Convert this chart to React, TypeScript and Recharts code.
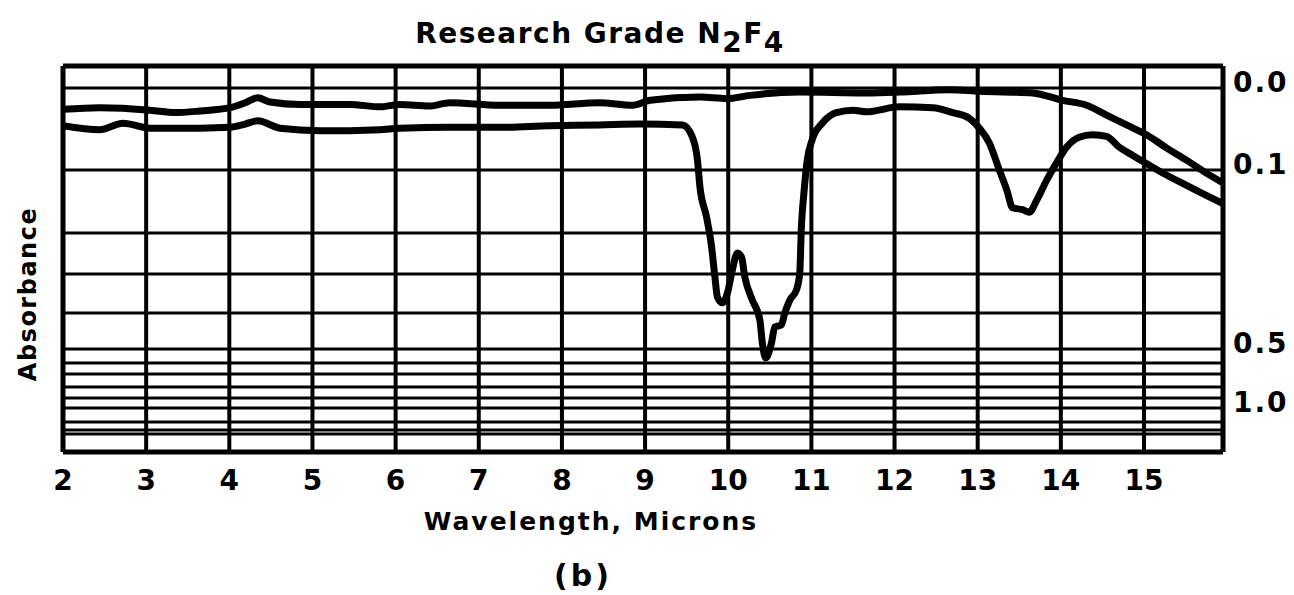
import React from 'react';
import { LineChart, Line, XAxis, YAxis, ReferenceLine } from 'recharts';

// ---- axis definitions ----
const wavelengthTicks = [2, 3, 4, 5, 6, 7, 8, 9, 10, 11, 12, 13, 14, 15];
const wavelengthDomain = [2, 15.95];
const absorbanceTickValues = [0, 0.1, 0.5, 1.0];
const absorbanceTickLabels = ['0.0', '0.1', '0.5', '1.0'];
// absorbance grid lines of the chart paper and their depth on the paper (% of plot height, 0 = top)
const gridAbsorbance = [0, 0.1, 0.2, 0.3, 0.4, 0.5, 0.6, 0.7, 0.8, 0.9, 1.0, 1.5, 2.0, 3.0];
const gridDepth = [5.7, 26.94, 43.26, 53.89, 63.99, 73.32, 76.94, 79.79, 83.16, 86.01, 88.6, 92.23, 94.3, 95.34];

// ---- series (wavelength in microns, absorbance) ----
const upperWavelength = [2.0, 2.44, 3.05, 3.35, 3.65, 4.01, 4.19, 4.34, 4.49, 4.85, 5.45, 5.81, 6.05, 6.41, 6.65, 7.25, 7.85, 8.45, 8.85, 9.06, 9.66, 9.98, 10.26, 10.86, 11.66, 12.06, 12.66, 13.02, 13.66, 14.02, 14.31, 14.55, 14.79, 15.03, 15.27, 15.51, 15.75, 15.93];
const upperAbsorbance = [0.026, 0.024, 0.027, 0.03, 0.028, 0.024, 0.018, 0.012, 0.017, 0.02, 0.02, 0.023, 0.02, 0.022, 0.018, 0.021, 0.021, 0.018, 0.021, 0.015, 0.011, 0.013, 0.009, 0.005, 0.006, 0.005, 0.002, 0.004, 0.006, 0.015, 0.021, 0.033, 0.045, 0.057, 0.073, 0.088, 0.105, 0.119];

const lowerWavelength = [2.0, 2.44, 2.72, 3.05, 3.65, 4.01, 4.19, 4.34, 4.61, 5.09, 5.45, 5.81, 6.05, 6.65, 7.25, 7.85, 8.45, 8.94, 9.45, 9.57, 9.63, 9.66, 9.74, 9.8, 9.84, 9.87, 9.93, 9.99, 10.05, 10.11, 10.16, 10.2, 10.29, 10.38, 10.41, 10.45, 10.52, 10.56, 10.64, 10.68, 10.74, 10.82, 10.86, 10.88, 10.91, 10.95, 11.01, 11.13, 11.3, 11.5, 11.66, 12.06, 12.46, 12.7, 12.9, 13.02, 13.14, 13.26, 13.35, 13.42, 13.54, 13.62, 13.71, 13.83, 13.95, 14.07, 14.22, 14.38, 14.55, 14.7, 14.86, 15.06, 15.27, 15.46, 15.67, 15.93];
const lowerAbsorbance = [0.046, 0.051, 0.043, 0.049, 0.049, 0.048, 0.044, 0.04, 0.049, 0.052, 0.052, 0.051, 0.049, 0.048, 0.048, 0.046, 0.045, 0.044, 0.045, 0.06, 0.088, 0.127, 0.175, 0.234, 0.308, 0.359, 0.374, 0.349, 0.29, 0.249, 0.259, 0.308, 0.367, 0.419, 0.483, 0.564, 0.483, 0.439, 0.433, 0.4, 0.367, 0.341, 0.298, 0.19, 0.137, 0.088, 0.063, 0.043, 0.03, 0.027, 0.029, 0.023, 0.024, 0.03, 0.037, 0.049, 0.067, 0.1, 0.132, 0.16, 0.163, 0.167, 0.148, 0.116, 0.091, 0.072, 0.06, 0.057, 0.059, 0.072, 0.082, 0.094, 0.108, 0.121, 0.135, 0.152];

// absorbance -> paper depth (piecewise along the chart paper's grid)
function toDepth(a: number): number {
  const n = gridAbsorbance.length;
  if (a <= gridAbsorbance[0]) {
    const s = (gridDepth[1] - gridDepth[0]) / (gridAbsorbance[1] - gridAbsorbance[0]);
    return gridDepth[0] + (a - gridAbsorbance[0]) * s;
  }
  for (let i = 0; i < n - 1; i++) {
    if (a <= gridAbsorbance[i + 1]) {
      const t = (a - gridAbsorbance[i]) / (gridAbsorbance[i + 1] - gridAbsorbance[i]);
      return gridDepth[i] + t * (gridDepth[i + 1] - gridDepth[i]);
    }
  }
  return gridDepth[n - 1];
}

const upperData = upperWavelength.map((w, i) => ({ w, d: toDepth(upperAbsorbance[i]) }));
const lowerData = lowerWavelength.map((w, i) => ({ w, d: toDepth(lowerAbsorbance[i]) }));
const yTickDepths = absorbanceTickValues.map(toDepth);
const gridLineDepths = gridAbsorbance.map(toDepth);

const FONT = '"DejaVu Sans", "Liberation Sans", sans-serif';

const XTick = (props: any) => {
  const { x, y, payload } = props;
  return (
    <text x={x} y={y} dy={38} textAnchor="middle" fontFamily={FONT} fontWeight="bold" fontSize={28} fill="#000">
      {payload.value}
    </text>
  );
};

const YTick = (props: any) => {
  const { x, y, payload } = props;
  let idx = 0;
  let best = Infinity;
  yTickDepths.forEach((d, i) => {
    const diff = Math.abs(d - payload.value);
    if (diff < best) { best = diff; idx = i; }
  });
  return (
    <text x={x} y={y} dy={4} textAnchor="start" fontFamily={FONT} fontWeight="bold" fontSize={28} letterSpacing={2} fill="#000">
      {absorbanceTickLabels[idx]}
    </text>
  );
};

export default function App() {
  return (
    <div style={{ position: 'absolute', left: 0, top: 0, width: 1294, height: 595, background: '#fff' }}>
      <LineChart width={1294} height={595} margin={{ top: 66, right: 0, bottom: 103, left: 63 }}>
        <XAxis
          dataKey="w"
          type="number"
          domain={wavelengthDomain}
          ticks={wavelengthTicks}
          allowDataOverflow
          axisLine={false}
          tickLine={false}
          tickSize={0}
          tickMargin={0}
          height={40}
          interval={0}
          tick={<XTick />}
        />
        <YAxis
          orientation="right"
          type="number"
          domain={[0, 100]}
          reversed
          allowDataOverflow
          ticks={yTickDepths}
          axisLine={false}
          tickLine={false}
          tickSize={0}
          tickMargin={10}
          width={71}
          interval={0}
          tick={<YTick />}
        />
        {gridLineDepths.map((d, i) => (
          <ReferenceLine key={'h' + i} y={d} stroke="#000" strokeWidth={3} ifOverflow="extendDomain" />
        ))}
        {wavelengthTicks.slice(1).map((w) => (
          <ReferenceLine key={'v' + w} x={w} stroke="#000" strokeWidth={4} />
        ))}
        <ReferenceLine x={wavelengthDomain[0]} stroke="#000" strokeWidth={5} />
        <ReferenceLine x={wavelengthDomain[1]} stroke="#000" strokeWidth={5} />
        <ReferenceLine y={0} stroke="#000" strokeWidth={5} />
        <ReferenceLine y={100} stroke="#000" strokeWidth={5} />
        <Line
          data={upperData}
          dataKey="d"
          type="monotone"
          stroke="#000"
          strokeWidth={7}
          dot={false}
          strokeLinejoin="round"
          strokeLinecap="round"
          isAnimationActive={false}
        />
        <Line
          data={lowerData}
          dataKey="d"
          type="monotone"
          stroke="#000"
          strokeWidth={7}
          dot={false}
          strokeLinejoin="round"
          strokeLinecap="round"
          isAnimationActive={false}
        />
      </LineChart>
      <svg width={1294} height={595} style={{ position: 'absolute', left: 0, top: 0, pointerEvents: 'none' }}>
        <text x={600} y={43} textAnchor="middle" fontFamily={FONT} fontWeight="bold" fontSize={28} letterSpacing={1.5} fill="#000">
          Research Grade N<tspan dy={9}>2</tspan><tspan dy={-9}>F</tspan><tspan dy={9}>4</tspan>
        </text>
        <text x={591} y={530} textAnchor="middle" fontFamily={FONT} fontWeight="bold" fontSize={25} letterSpacing={2} fill="#000">
          Wavelength, Microns
        </text>
        <text x={583} y={586} textAnchor="middle" fontFamily={FONT} fontWeight="bold" fontSize={30} letterSpacing={3} fill="#000">
          (b)
        </text>
        <text x={36} y={294} transform="rotate(-90 36 294)" textAnchor="middle" fontFamily={FONT} fontWeight="bold" fontSize={24} letterSpacing={1.5} fill="#000">
          Absorbance
        </text>
      </svg>
    </div>
  );
}
